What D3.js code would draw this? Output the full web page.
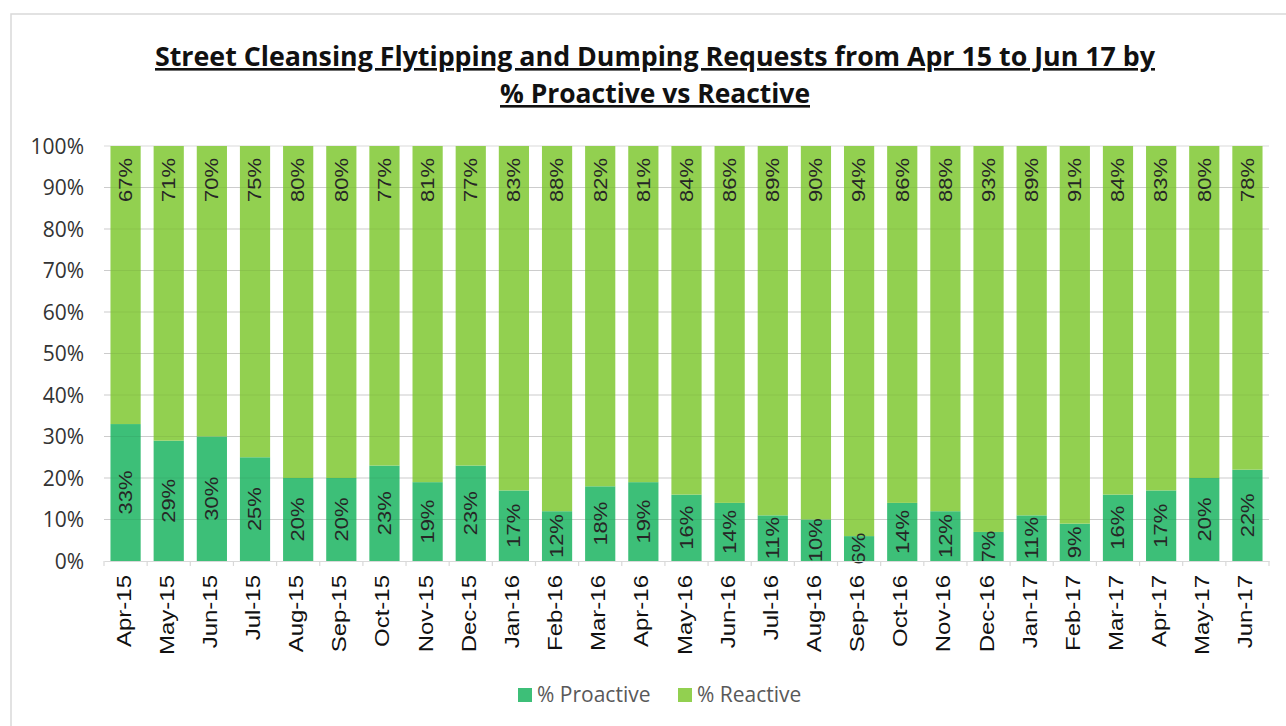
<!DOCTYPE html>
<html>
<head>
<meta charset="utf-8">
<script src="https://cdn.jsdelivr.net/npm/d3@7"></script>
<style>
  body { margin: 0; background: #fff; }
</style>
</head>
<body>
<div id="chart"></div>
<script>
// data
var months = ["Apr-15", "May-15", "Jun-15", "Jul-15", "Aug-15", "Sep-15", "Oct-15", "Nov-15", "Dec-15",
  "Jan-16", "Feb-16", "Mar-16", "Apr-16", "May-16", "Jun-16", "Jul-16", "Aug-16", "Sep-16", "Oct-16",
  "Nov-16", "Dec-16", "Jan-17", "Feb-17", "Mar-17", "Apr-17", "May-17", "Jun-17"];
var proactive = [33, 29, 30, 25, 20, 20, 23, 19, 23, 17, 12, 18, 19, 16, 14, 11, 10, 6, 14, 12, 7, 11, 9, 16, 17, 20, 22];
var reactive = [67, 71, 70, 75, 80, 80, 77, 81, 77, 83, 88, 82, 81, 84, 86, 89, 90, 94, 86, 88, 93, 89, 91, 84, 83, 80, 78];
var yTicks = [0, 10, 20, 30, 40, 50, 60, 70, 80, 90, 100];
var seriesNames = ["% Proactive", "% Reactive"];

var width = 1286,
  height = 726;
var colProactive = "#3dbf78",
  colReactive = "#92d050";

var svg = d3.select("#chart").append("svg")
  .attr("width", width)
  .attr("height", height)
  .style("font-family", "'Liberation Sans', Arial, sans-serif");

// outer frame
svg.append("rect")
  .attr("x", 11).attr("y", 14)
  .attr("width", 1300).attr("height", 740)
  .attr("fill", "none")
  .attr("stroke", "#d9d9d9")
  .attr("stroke-width", 1.5);

// title
var title = svg.append("g")
  .attr("font-family", "'Open Sans', sans-serif")
  .attr("font-weight", "bold")
  .attr("fill", "#111")
  .attr("text-anchor", "middle");
title.append("text")
  .attr("x", 655).attr("y", 66)
  .attr("font-size", 26)
  .attr("textLength", 1000)
  .attr("lengthAdjust", "spacingAndGlyphs")
  .attr("text-decoration", "underline")
  .text("Street Cleansing Flytipping and Dumping Requests from Apr 15 to Jun 17 by");
title.append("text")
  .attr("x", 655).attr("y", 103)
  .attr("font-size", 26)
  .attr("textLength", 310)
  .attr("lengthAdjust", "spacingAndGlyphs")
  .attr("text-decoration", "underline")
  .text("% Proactive vs Reactive");

var x = d3.scaleBand()
  .domain(months)
  .range([104, 1269])
  .paddingInner(0.3)
  .paddingOuter(0.15);

var y = d3.scaleLinear()
  .domain([0, 100])
  .range([561, 146]);

// gridlines
svg.append("g")
  .selectAll("line")
  .data(yTicks.slice(1))
  .enter()
  .append("line")
  .attr("x1", 104).attr("x2", 1269)
  .attr("y1", function(d) { return y(d); })
  .attr("y2", function(d) { return y(d); })
  .attr("stroke", "#d9d9d9")
  .attr("stroke-width", 1.2);

// y axis labels
svg.append("g")
  .selectAll("text")
  .data(yTicks)
  .enter()
  .append("text")
  .attr("x", 84)
  .attr("y", function(d) { return y(d); })
  .attr("dy", "0.36em")
  .attr("text-anchor", "end")
  .attr("font-family", "'Open Sans', sans-serif")
  .attr("font-size", 21)
  .attr("fill", "#333")
  .text(function(d) { return d + "%"; });

// bars
var bars = svg.append("g");
bars.selectAll("rect.pro")
  .data(months)
  .enter()
  .append("rect")
  .attr("class", "pro")
  .attr("x", function(d) { return x(d); })
  .attr("width", x.bandwidth())
  .attr("y", function(d, i) { return y(proactive[i]); })
  .attr("height", function(d, i) { return y(0) - y(proactive[i]); })
  .attr("fill", colProactive);
bars.selectAll("rect.rea")
  .data(months)
  .enter()
  .append("rect")
  .attr("class", "rea")
  .attr("x", function(d) { return x(d); })
  .attr("width", x.bandwidth())
  .attr("y", function(d, i) { return y(proactive[i] + reactive[i]); })
  .attr("height", function(d, i) { return y(proactive[i]) - y(proactive[i] + reactive[i]); })
  .attr("fill", colReactive);

// faint gridlines showing through the bars
svg.append("g")
  .selectAll("line")
  .data(yTicks.slice(1, -1))
  .enter()
  .append("line")
  .attr("x1", 104).attr("x2", 1269)
  .attr("y1", function(d) { return y(d); })
  .attr("y2", function(d) { return y(d); })
  .attr("stroke", "#000")
  .attr("stroke-opacity", 0.06);

// value labels
var labels = svg.append("g")
  .attr("font-size", 18)
  .attr("fill", "#262626");
labels.selectAll("text.pro")
  .data(months)
  .enter()
  .append("text")
  .attr("transform", function(d, i) {
    var cx = x(d) + x.bandwidth() / 2,
      cy = (y(0) + y(proactive[i])) / 2;
    return "translate(" + cx + "," + cy + ") rotate(-90) scale(1.22,1)";
  })
  .attr("text-anchor", "middle")
  .attr("dy", "0.35em")
  .text(function(d, i) { return proactive[i] + "%"; });
labels.selectAll("text.rea")
  .data(months)
  .enter()
  .append("text")
  .attr("transform", function(d, i) {
    var cx = x(d) + x.bandwidth() / 2,
      cy = y(proactive[i] + reactive[i]) + 12;
    return "translate(" + cx + "," + cy + ") rotate(-90) scale(1.22,1)";
  })
  .attr("text-anchor", "end")
  .attr("dy", "0.35em")
  .text(function(d, i) { return reactive[i] + "%"; });

// x axis
var xAxis = d3.axisBottom(x).tickSize(0).tickFormat("");
var xg = svg.append("g")
  .attr("transform", "translate(0," + y(0) + ")")
  .call(xAxis);
xg.select(".domain").attr("stroke", "#d9d9d9").attr("stroke-width", 1.2);
// boundary ticks between categories
xg.selectAll("line.bound")
  .data(d3.range(months.length + 1))
  .enter()
  .append("line")
  .attr("class", "bound")
  .attr("x1", function(i) { return 104 + i * x.step(); })
  .attr("x2", function(i) { return 104 + i * x.step(); })
  .attr("y1", 0).attr("y2", 5)
  .attr("stroke", "#d9d9d9")
  .attr("stroke-width", 1.2);

svg.append("g")
  .selectAll("text")
  .data(months)
  .enter()
  .append("text")
  .attr("transform", function(d) {
    return "translate(" + (x(d) + x.bandwidth() / 2 - 2) + ",575) rotate(-90) scale(1.2,1)";
  })
  .attr("text-anchor", "end")
  .attr("dy", "0.35em")
  .attr("font-size", 20)
  .attr("fill", "#111")
  .text(function(d) { return d; });

// legend
var legend = svg.append("g")
  .attr("font-family", "'Open Sans', sans-serif")
  .attr("font-size", 21)
  .attr("fill", "#595959");
var legX = [518, 678];
seriesNames.forEach(function(name, i) {
  legend.append("rect")
    .attr("x", legX[i]).attr("y", 688)
    .attr("width", 14).attr("height", 14)
    .attr("fill", i === 0 ? colProactive : colReactive);
  legend.append("text")
    .attr("x", legX[i] + 19).attr("y", 695)
    .attr("dy", "0.35em")
    .text(name);
});
</script>
</body>
</html>
